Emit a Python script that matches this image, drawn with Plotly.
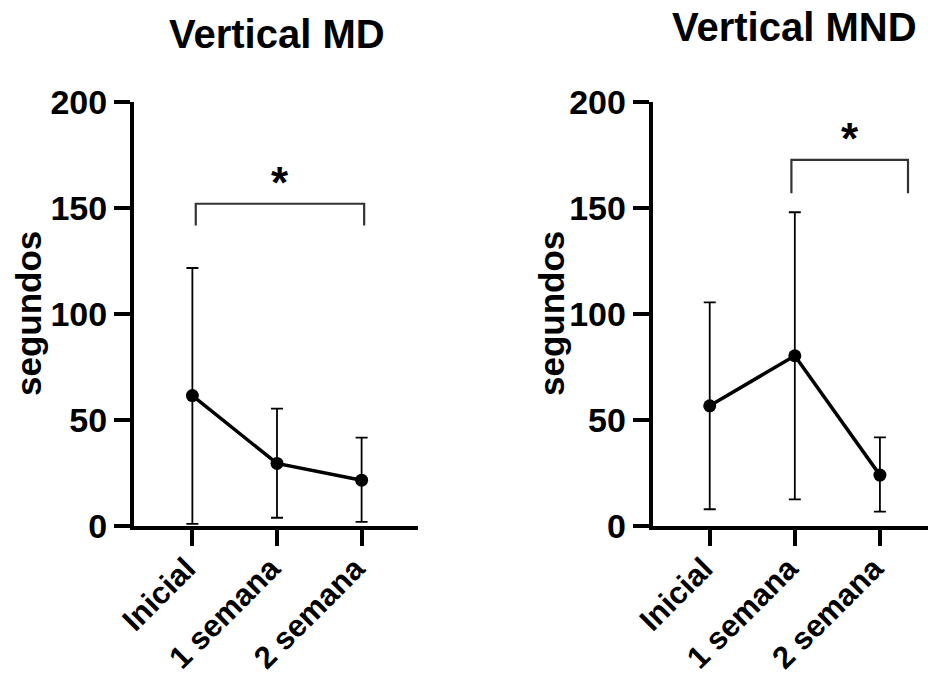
import plotly.graph_objects as go

categories = ["Inicial", "1 semana", "2 semana"]

md_mean = [61.5, 29.5, 21.6]
md_upper = [121.7, 55.4, 41.7]
md_lower = [1.0, 3.9, 1.9]

mnd_mean = [56.7, 80.3, 24.0]
mnd_upper = [105.5, 148.0, 41.8]
mnd_lower = [7.9, 12.6, 6.8]

y_ticks = [0, 50, 100, 150, 200]

# significance brackets: (x start, x end, bar y, leg bottom y, star y)
md_bracket = (0.04, 2.03, 152.0, 141.7, 162.0)
mnd_bracket = (0.96, 2.33, 172.7, 157.0, 183.0)

FONT = "Liberation Sans, Arial, Helvetica, sans-serif"
W, H = 928, 675
T, B = 102, 149
PH = H - T - B

fig = go.Figure()

def add_panel(mean, upper, lower, xa, ya):
    xs = [0, 1, 2]
    fig.add_trace(go.Scatter(
        x=xs, y=mean, mode="lines+markers",
        line=dict(color="black", width=3.5),
        marker=dict(color="black", size=13),
        error_y=dict(type="data", symmetric=False,
                     array=[u - m for u, m in zip(upper, mean)],
                     arrayminus=[m - l for m, l in zip(mean, lower)],
                     color="black", thickness=1.8, width=6),
        xaxis=xa, yaxis=ya, showlegend=False, cliponaxis=False,
    ))

add_panel(md_mean, md_upper, md_lower, "x", "y")
add_panel(mnd_mean, mnd_upper, mnd_lower, "x2", "y2")

def add_bracket(b, xa, ya):
    x0, x1, yb, yl, ys = b
    fig.add_trace(go.Scatter(
        x=[x0, x0, x1, x1], y=[yl, yb, yb, yl], mode="lines",
        line=dict(color="#333333", width=2.2),
        xaxis=xa, yaxis=ya, showlegend=False, cliponaxis=False,
        hoverinfo="skip",
    ))
    fig.add_annotation(x=(x0 + x1) / 2, y=ys, xref=xa, yref=ya,
                       text="<b>*</b>", showarrow=False,
                       font=dict(family=FONT, size=44, color="black"))

add_bracket(md_bracket, "x", "y")
add_bracket(mnd_bracket, "x2", "y2")

xaxis_common = dict(
    tickmode="array", tickvals=[0, 1, 2], ticktext=[f"<b>{c}</b>" for c in categories],
    tickangle=-45, ticks="outside", ticklen=16, tickwidth=4, tickcolor="black",
    ticklabelstandoff=-8, ticklabelshift=-6,
    showline=True, linewidth=4, linecolor="black", showgrid=False, zeroline=False,
    tickfont=dict(family=FONT, size=31, color="black"), automargin=False,
)
yaxis_common = dict(
    range=[0, 200], tickmode="array", tickvals=y_ticks,
    ticktext=[f"<b>{v}</b>" for v in y_ticks],
    ticks="outside", ticklen=16, tickwidth=4, tickcolor="black",
    showline=True, linewidth=4, linecolor="black", showgrid=False, zeroline=False,
    tickfont=dict(family=FONT, size=34, color="black"), automargin=False,
)

fig.update_layout(
    width=W, height=H,
    margin=dict(l=0, r=0, t=T, b=B),
    plot_bgcolor="white", paper_bgcolor="white",
    xaxis=dict(xaxis_common, domain=[134 / W, 418.3 / W], range=[-0.69, 2.67], anchor="y"),
    yaxis=dict(yaxis_common, domain=[0, 1], anchor="x"),
    xaxis2=dict(xaxis_common, domain=[652.7 / W, 1.0], range=[-0.67, 2.565], anchor="y2"),
    yaxis2=dict(yaxis_common, domain=[0, 1], anchor="x2"),
)

def py(px):
    return 1 + (T - px) / PH

# panel titles
fig.add_annotation(x=1, xref="x", y=py(34), yref="paper", yanchor="middle",
                   text="<b>Vertical MD</b>", showarrow=False,
                   font=dict(family=FONT, size=40, color="black"))
fig.add_annotation(x=1, xref="x2", y=py(27), yref="paper", yanchor="middle",
                   text="<b>Vertical MND</b>", showarrow=False,
                   font=dict(family=FONT, size=40, color="black"))

# y axis titles
for xpx in (28, 551):
    fig.add_annotation(x=xpx / W, xref="paper", xanchor="center", y=0.5, yref="paper",
                       text="<b>segundos</b>", showarrow=False, textangle=-90,
                       font=dict(family=FONT, size=35, color="black"))

fig.write_html(
    "out.html",
    config={"displayModeBar": False},
    post_script="document.body.style.margin='0';document.body.style.overflow='hidden';",
)
